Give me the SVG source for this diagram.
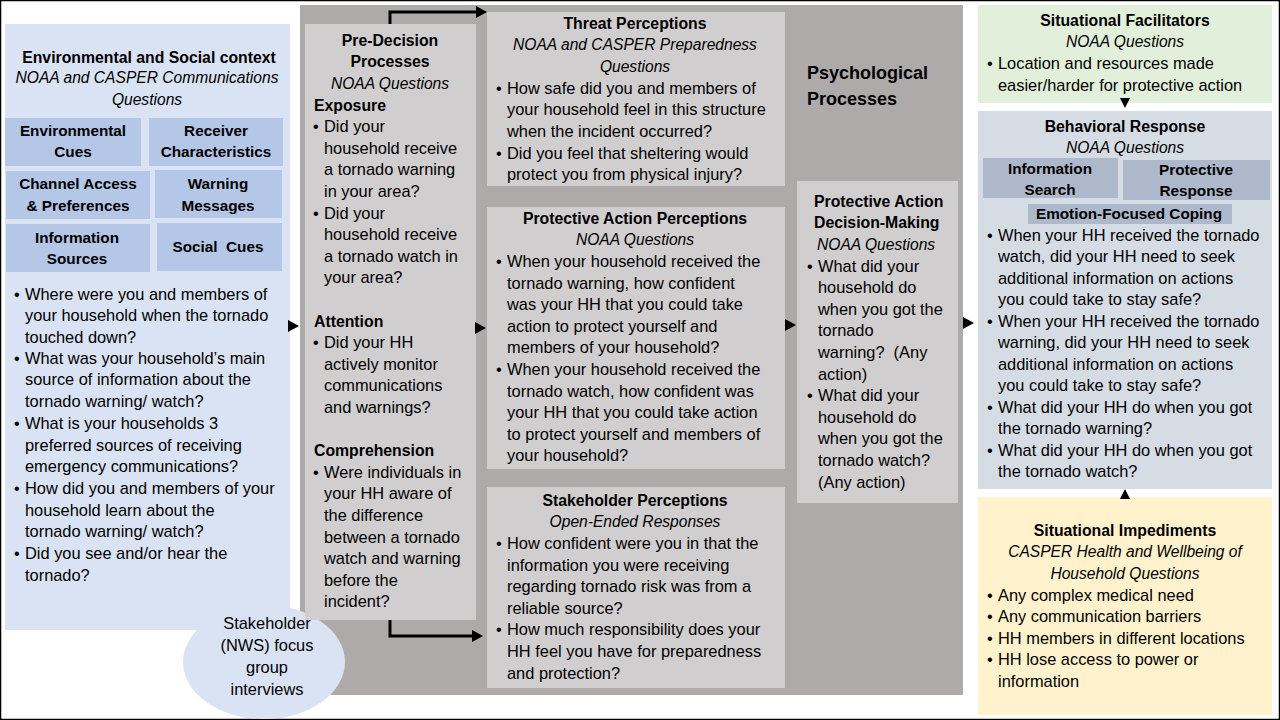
<svg xmlns="http://www.w3.org/2000/svg" width="1280" height="720" viewBox="0 0 1280 720">
<style>
text{font-family:"Liberation Sans",Arial,sans-serif;font-size:16.4px;fill:#000}
.b{font-weight:bold;font-size:15.3px}
.h{font-size:15.8px}
.i{font-style:italic;font-size:15.6px}
.c{text-anchor:middle}
.blue{fill:#dae3f3}
.mblue{fill:#b4c7e7}
.gray{fill:#d0cece}
.ps{fill:#d6dce4}
.sub{fill:#adb9ca}
.conn{fill:none;stroke:#000;stroke-width:3}
</style>
<rect x="0.5" y="0.5" width="1279" height="719" fill="#fff" stroke="#000" stroke-width="1.5"/>
<g id="psychological-processes">
<rect x="300" y="5" width="663" height="690" fill="#aeaaaa"/>
<text class="b" x="807" y="79" style="font-size:18px">Psychological</text>
<text class="b" x="807" y="105" style="font-size:18px">Processes</text>
</g>
<g id="env-social-context">
<rect class="blue" x="5" y="24" width="285" height="606"/>
<text class="b h c" x="149" y="63">Environmental and Social context</text>
<text class="i c" x="147" y="83">NOAA and CASPER Communications</text>
<text class="i c" x="147" y="105">Questions</text>
<rect class="mblue" x="5" y="118" width="136" height="48"/>
<text class="b c" x="73" y="136">Environmental</text>
<text class="b c" x="73" y="157">Cues</text>
<rect class="mblue" x="149" y="118" width="134" height="48"/>
<text class="b c" x="216" y="136">Receiver</text>
<text class="b c" x="216" y="157">Characteristics</text>
<rect class="mblue" x="6" y="171" width="144" height="48"/>
<text class="b c" x="78" y="189">Channel Access</text>
<text class="b c" x="78" y="211">&amp; Preferences</text>
<rect class="mblue" x="155" y="170" width="127" height="48"/>
<text class="b c" x="218" y="189">Warning</text>
<text class="b c" x="218" y="211">Messages</text>
<rect class="mblue" x="6" y="224" width="144" height="48"/>
<text class="b c" x="77" y="243">Information</text>
<text class="b c" x="77" y="264">Sources</text>
<rect class="mblue" x="157" y="223" width="125" height="48"/>
<text class="b c" x="218" y="252" xml:space="preserve">Social  Cues</text>
<text x="14" y="300">•</text><text x="25" y="300">Where were you and members of</text>
<text x="25" y="321">your household when the tornado</text>
<text x="25" y="343">touched down?</text>
<text x="14" y="364">•</text><text x="25" y="364">What was your household’s main</text>
<text x="25" y="385">source of information about the</text>
<text x="25" y="407">tornado warning/ watch?</text>
<text x="14" y="429">•</text><text x="25" y="429">What is your households 3</text>
<text x="25" y="451">preferred sources of receiving</text>
<text x="25" y="472">emergency communications?</text>
<text x="14" y="494">•</text><text x="25" y="494">How did you and members of your</text>
<text x="25" y="516">household learn about the</text>
<text x="25" y="537">tornado warning/ watch?</text>
<text x="14" y="559">•</text><text x="25" y="559">Did you see and/or hear the</text>
<text x="25" y="581">tornado?</text>
</g>
<g id="stakeholder-focus-group">
<ellipse cx="264" cy="662" rx="81" ry="57" fill="#dae3f3"/>
<text class="c" x="267" y="629">Stakeholder</text>
<text class="c" x="267" y="651">(NWS) focus</text>
<text class="c" x="267" y="673">group</text>
<text class="c" x="267" y="695">interviews</text>
</g>
<g id="pre-decision">
<rect class="gray" x="305" y="24" width="171" height="596"/>
<text class="b h c" x="390" y="46">Pre-Decision</text>
<text class="b h c" x="390" y="67">Processes</text>
<text class="i c" x="390" y="89">NOAA Questions</text>
<text class="b h" x="314" y="111">Exposure</text>
<text x="313" y="132">•</text><text x="324" y="132">Did your</text>
<text x="324" y="154">household receive</text>
<text x="324" y="175">a tornado warning</text>
<text x="324" y="197">in your area?</text>
<text x="313" y="219">•</text><text x="324" y="219">Did your</text>
<text x="324" y="240">household receive</text>
<text x="324" y="262">a tornado watch in</text>
<text x="324" y="283">your area?</text>
<text class="b h" x="314" y="327">Attention</text>
<text x="313" y="348">•</text><text x="324" y="348">Did your HH</text>
<text x="324" y="370">actively monitor</text>
<text x="324" y="391">communications</text>
<text x="324" y="413">and warnings?</text>
<text class="b h" x="314" y="456">Comprehension</text>
<text x="313" y="478">•</text><text x="324" y="478">Were individuals in</text>
<text x="324" y="499">your HH aware of</text>
<text x="324" y="521">the difference</text>
<text x="324" y="543">between a tornado</text>
<text x="324" y="564">watch and warning</text>
<text x="324" y="586">before the</text>
<text x="324" y="607">incident?</text>
</g>
<g id="threat-perceptions">
<rect class="gray" x="487" y="12" width="298" height="174"/>
<text class="b h c" x="635" y="29">Threat Perceptions</text>
<text class="i c" x="635" y="50">NOAA and CASPER Preparedness</text>
<text class="i c" x="635" y="72">Questions</text>
<text x="496" y="94">•</text><text x="507" y="94">How safe did you and members of</text>
<text x="507" y="115">your household feel in this structure</text>
<text x="507" y="137">when the incident occurred?</text>
<text x="496" y="159">•</text><text x="507" y="159">Did you feel that sheltering would</text>
<text x="507" y="180">protect you from physical injury?</text>
</g>
<g id="protective-action-perceptions">
<rect class="gray" x="487" y="207" width="298" height="262"/>
<text class="b h c" x="635" y="224">Protective Action Perceptions</text>
<text class="i c" x="635" y="245">NOAA Questions</text>
<text x="496" y="267">•</text><text x="507" y="267">When your household received the</text>
<text x="507" y="289">tornado warning, how confident</text>
<text x="507" y="310">was your HH that you could take</text>
<text x="507" y="332">action to protect yourself and</text>
<text x="507" y="353">members of your household?</text>
<text x="496" y="375">•</text><text x="507" y="375">When your household received the</text>
<text x="507" y="397">tornado watch, how confident was</text>
<text x="507" y="418">your HH that you could take action</text>
<text x="507" y="440">to protect yourself and members of</text>
<text x="507" y="461">your household?</text>
</g>
<g id="stakeholder-perceptions">
<rect class="gray" x="487" y="487" width="298" height="201"/>
<text class="b h c" x="635" y="506">Stakeholder Perceptions</text>
<text class="i c" x="635" y="527">Open-Ended Responses</text>
<text x="496" y="549">•</text><text x="507" y="549">How confident were you in that the</text>
<text x="507" y="571">information you were receiving</text>
<text x="507" y="592">regarding tornado risk was from a</text>
<text x="507" y="614">reliable source?</text>
<text x="496" y="635">•</text><text x="507" y="635">How much responsibility does your</text>
<text x="507" y="657">HH feel you have for preparedness</text>
<text x="507" y="679">and protection?</text>
</g>
<g id="padm">
<rect class="gray" x="797" y="181" width="161" height="322"/>
<text class="b h" x="814" y="207">Protective Action</text>
<text class="b h" x="814" y="228">Decision-Making</text>
<text class="i" x="817" y="250">NOAA Questions</text>
<text x="807" y="272">•</text><text x="818" y="272">What did your</text>
<text x="818" y="293">household do</text>
<text x="818" y="315">when you got the</text>
<text x="818" y="336">tornado</text>
<text x="818" y="358" xml:space="preserve">warning?  (Any</text>
<text x="818" y="380">action)</text>
<text x="807" y="401">•</text><text x="818" y="401">What did your</text>
<text x="818" y="423">household do</text>
<text x="818" y="444">when you got the</text>
<text x="818" y="466">tornado watch?</text>
<text x="818" y="488">(Any action)</text>
</g>
<g id="situational-facilitators">
<rect x="978" y="5" width="294" height="98" fill="#e2efda"/>
<text class="b h c" x="1125" y="26">Situational Facilitators</text>
<text class="i c" x="1125" y="47">NOAA Questions</text>
<text x="987" y="69">•</text><text x="998" y="69">Location and resources made</text>
<text x="998" y="91">easier/harder for protective action</text>
</g>
<g id="behavioral-response">
<rect class="ps" x="978" y="111" width="294" height="378"/>
<text class="b h c" x="1125" y="132">Behavioral Response</text>
<text class="i c" x="1125" y="153">NOAA Questions</text>
<rect class="sub" x="983" y="158" width="135" height="40"/>
<text class="b c" x="1050" y="174">Information</text>
<text class="b c" x="1050" y="195">Search</text>
<rect class="sub" x="1123" y="160" width="147" height="40"/>
<text class="b c" x="1196" y="175">Protective</text>
<text class="b c" x="1196" y="196">Response</text>
<rect class="sub" x="1028" y="204" width="204" height="20"/>
<text class="b c" x="1129" y="219">Emotion-Focused Coping</text>
<text x="987" y="241">•</text><text x="998" y="241">When your HH received the tornado</text>
<text x="998" y="262">watch, did your HH need to seek</text>
<text x="998" y="284">additional information on actions</text>
<text x="998" y="305">you could take to stay safe?</text>
<text x="987" y="327">•</text><text x="998" y="327">When your HH received the tornado</text>
<text x="998" y="348">warning, did your HH need to seek</text>
<text x="998" y="370">additional information on actions</text>
<text x="998" y="391">you could take to stay safe?</text>
<text x="987" y="413">•</text><text x="998" y="413">What did your HH do when you got</text>
<text x="998" y="434">the tornado warning?</text>
<text x="987" y="456">•</text><text x="998" y="456">What did your HH do when you got</text>
<text x="998" y="477">the tornado watch?</text>
</g>
<g id="situational-impediments">
<rect x="978" y="497" width="294" height="218" fill="#fff2cc"/>
<text class="b h c" x="1125" y="536">Situational Impediments</text>
<text class="i c" x="1125" y="557">CASPER Health and Wellbeing of</text>
<text class="i c" x="1125" y="579">Household Questions</text>
<text x="987" y="601">•</text><text x="998" y="601">Any complex medical need</text>
<text x="987" y="622">•</text><text x="998" y="622">Any communication barriers</text>
<text x="987" y="644">•</text><text x="998" y="644">HH members in different locations</text>
<text x="987" y="665">•</text><text x="998" y="665">HH lose access to power or</text>
<text x="998" y="687">information</text>
</g>
<g id="connectors">
<polygon points="288,320 299,326 288,332"/>
<polygon points="475,322 486,328 475,334"/>
<polygon points="785,319 796,325 785,331"/>
<polygon points="963,317 974,323 963,329"/>
<polygon points="1120,98 1130,98 1125,108"/>
<polygon points="1120,499 1130,499 1125,489"/>
<polyline class="conn" points="390,24 390,12 477,12"/>
<polygon points="476,6 487,12 476,18"/>
<polyline class="conn" points="390,620 390,636 473,636"/>
<polygon points="472,630 483,636 472,642"/>
</g>
</svg>
